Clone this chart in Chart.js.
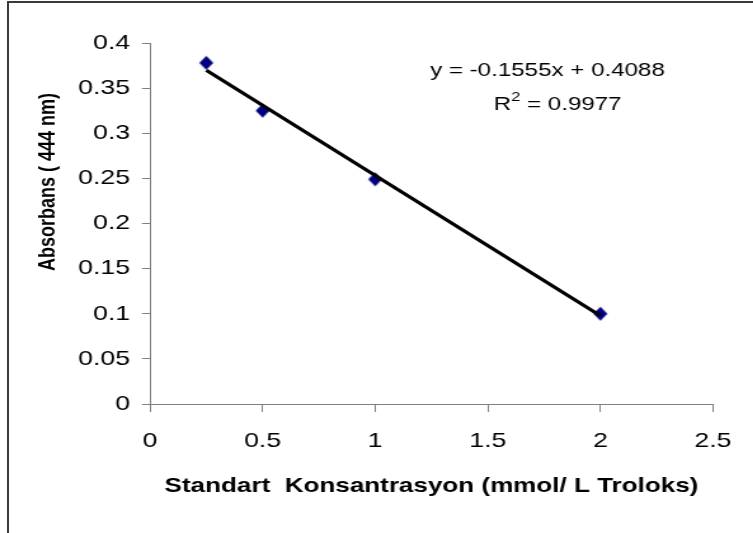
<!DOCTYPE html>
<html>
<head>
<meta charset="utf-8">
<script src="https://cdn.jsdelivr.net/npm/chart.js@4/dist/chart.umd.min.js"></script>
<style>
  html, body { margin: 0; padding: 0; background: #fff; overflow: hidden; }
  #page { position: relative; width: 753px; height: 533px; }
  #stretch { position: absolute; left: 0; top: 0; transform: scale(1.27, 1); transform-origin: 0 0; }
  #frameTop { position: absolute; left: 7px; top: 1px; width: 746px; height: 2px; background: #3a3a3a; }
  #frameLeft { position: absolute; left: 7px; top: 1px; width: 2px; height: 532px; background: #3a3a3a; }
</style>
</head>
<body>
<div id="page">
  <div id="stretch"><canvas id="myChart" width="593" height="533"></canvas></div>
  <div id="frameTop"></div>
  <div id="frameLeft"></div>
</div>
<script>
// chart data
const xValues = [0.25, 0.5, 1, 2];
const yValues = [0.378, 0.325, 0.249, 0.1];
const xTicks = [0, 0.5, 1, 1.5, 2, 2.5];
const yTicks = [0, 0.05, 0.1, 0.15, 0.2, 0.25, 0.3, 0.35, 0.4];
const slope = -0.1555;
const intercept = 0.4088;
const rSquared = "0.9977";

const xTitle = "Standart  Konsantrasyon (mmol/ L Troloks)";
const yTitle = "Absorbans ( 444 nm)";

const SX = 1.27; // the picture is stretched sideways
const FONT = "'Liberation Sans', Arial, sans-serif";
const axisGray = "#808080";

// diamond marker, pre-squeezed so it looks square after the stretch
function makeDiamond() {
  const c = document.createElement("canvas");
  c.width = 14; c.height = 16;
  const g = c.getContext("2d");
  g.fillStyle = "#000080";
  g.beginPath();
  g.moveTo(7, 1);
  g.lineTo(7 + 7 / SX, 8);
  g.lineTo(7, 15);
  g.lineTo(7 - 7 / SX, 8);
  g.closePath();
  g.fill();
  return c;
}

const points = xValues.map((x, i) => ({ x: x, y: yValues[i] }));
const xMin = Math.min(...xValues), xMax = Math.max(...xValues);
const trend = [xMin, xMax].map(x => ({ x: x, y: slope * x + intercept }));

const fmt = v => String(parseFloat(Number(v).toFixed(2)));

// equation and axis titles
const textPlugin = {
  id: "texts",
  afterDraw(chart) {
    const ctx = chart.ctx;
    const a = chart.chartArea;
    ctx.save();
    ctx.fillStyle = "#000";
    ctx.textBaseline = "middle";

    // trendline label
    ctx.font = "19px " + FONT;
    ctx.textAlign = "center";
    const eq = "y = " + slope + "x + " + intercept;
    const ex = a.left + (a.right - a.left) * 0.706;
    ctx.fillText(eq, ex, 71);

    const r1 = "R", r3 = " = " + rSquared;
    const w1 = ctx.measureText(r1).width, w3 = ctx.measureText(r3).width;
    ctx.font = "13px " + FONT;
    const w2 = ctx.measureText("2").width;
    let rx = ex + 8 - (w1 + w2 + w3) / 2;
    ctx.textAlign = "left";
    ctx.font = "19px " + FONT;
    ctx.fillText(r1, rx, 105);
    ctx.font = "13px " + FONT;
    ctx.fillText("2", rx + w1, 97);
    ctx.font = "19px " + FONT;
    ctx.fillText(r3, rx + w1 + w2, 105);

    // axis titles
    ctx.font = "bold 20.5px " + FONT;
    ctx.textAlign = "center";
    ctx.fillText(xTitle, (a.left + a.right) / 2, 486);

    ctx.translate(37.8, 182);
    ctx.rotate(-Math.PI / 2);
    ctx.font = "bold 18px " + FONT;
    ctx.fillText(yTitle, 0, 0);
    ctx.restore();
  }
};

const config = {
  data: {
    datasets: [
      {
        type: "scatter",
        data: trend,
        showLine: true,
        borderColor: "#000",
        borderWidth: 3.2,
        pointRadius: 0,
        fill: false
      },
      {
        type: "scatter",
        data: points,
        pointStyle: makeDiamond(),
        pointRadius: 7,
        showLine: false
      }
    ]
  },
  options: {
    responsive: false,
    maintainAspectRatio: false,
    devicePixelRatio: 1,
    animation: false,
    events: [],
    layout: { padding: { top: 43, right: 22.9, left: 0, bottom: 0 } },
    plugins: {
      legend: { display: false },
      tooltip: { enabled: false }
    },
    scales: {
      x: {
        type: "linear",
        min: 0,
        max: 2.5,
        afterBuildTicks: s => { s.ticks = xTicks.map(v => ({ value: v })); },
        afterFit: s => { s.height = 129; },
        ticks: {
          color: "#000",
          font: { family: FONT, size: 21 },
          padding: 17,
          maxRotation: 0,
          autoSkip: false,
          callback: v => fmt(v)
        },
        grid: { drawOnChartArea: false, drawTicks: true, tickLength: 8, tickColor: axisGray },
        border: { display: true, color: axisGray, width: 1 }
      },
      y: {
        type: "linear",
        min: 0,
        max: 0.4,
        afterBuildTicks: s => { s.ticks = yTicks.map(v => ({ value: v })); },
        afterFit: s => { s.width = 118.1; },
        ticks: {
          color: "#000",
          font: { family: FONT, size: 21 },
          padding: 9.4,
          autoSkip: false,
          callback: v => fmt(v)
        },
        grid: { drawOnChartArea: false, drawTicks: true, tickLength: 6.3, tickColor: axisGray },
        border: { display: true, color: axisGray, width: 1 }
      }
    }
  },
  plugins: [textPlugin]
};

const myChart = new Chart(document.getElementById("myChart"), config);
</script>
</body>
</html>
